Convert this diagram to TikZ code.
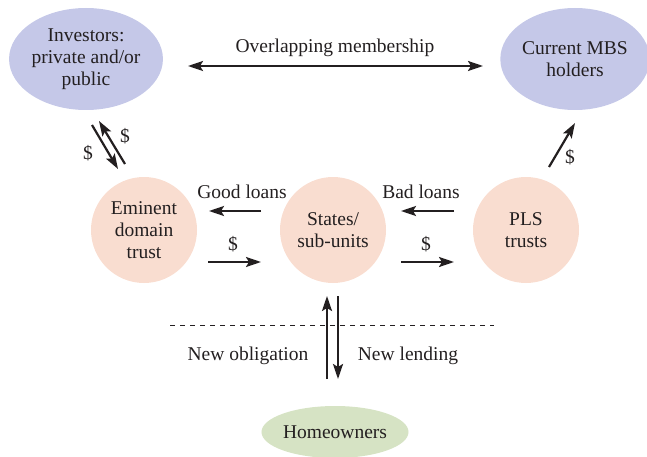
\documentclass[tikz,border=0pt]{standalone}
\usepackage{fontspec}
\setmainfont{Liberation Serif}
\usetikzlibrary{arrows.meta,shapes.geometric}
\definecolor{bluefill}{RGB}{197,200,232}
\definecolor{pinkfill}{RGB}{249,221,208}
\definecolor{greenfill}{RGB}{214,227,196}
\definecolor{txt}{RGB}{35,31,32}
\begin{document}
\begin{tikzpicture}[x=1pt,y=-1pt,
  every node/.style={text=txt, font=\fontsize{19.5}{22}\selectfont},
  blueell/.style={ellipse, fill=bluefill, inner sep=0pt, align=center},
  pinkcirc/.style={circle, fill=pinkfill, minimum size=106pt, inner sep=0pt, align=center},
  greenell/.style={ellipse, fill=greenfill, inner sep=0pt, align=center},
  tip/.tip={Stealth[length=15pt,width=10pt,inset=3pt]},
  arr/.style={line width=2.2pt, draw=txt, -tip},
  dblarr/.style={line width=2.2pt, draw=txt, tip-tip},
  lbl/.style={inner sep=0pt}
]
\useasboundingbox (0,0) rectangle (647,457);

\node[blueell, minimum width=151pt, minimum height=102pt] (inv) at (86,59) {Investors:\\private and/or\\public};
\node[blueell, minimum width=146pt, minimum height=102pt] (mbs) at (575,59) {Current MBS\\holders};
\node[pinkcirc] (emi) at (144,230) {Eminent\\domain\\trust};
\node[pinkcirc] (sta) at (333,230) {States/\\sub-units};
\node[pinkcirc] (pls) at (526,230) {PLS\\trusts};
\node[greenell, minimum width=146pt, minimum height=52pt] (home) at (335,432) {Homeowners};

% overlapping membership
\coordinate (om1) at (188,66);
\coordinate (om2) at (483,66);
\draw[dblarr] (om1) -- (om2);
\node[lbl] (oml) at (335,48) {Overlapping membership};

% investors <-> eminent
\coordinate (a1s) at (92,125);
\coordinate (a1e) at (118,169);
\draw[arr] (a1s) -- (a1e);
\coordinate (a2s) at (125,164);
\coordinate (a2e) at (99,121);
\draw[arr] (a2s) -- (a2e);
\node[lbl] (d1) at (88,153) {\$};
\node[lbl] (d2) at (125,136) {\$};

% PLS -> MBS
\coordinate (m1s) at (549,167);
\coordinate (m1e) at (575,123);
\draw[arr] (m1s) -- (m1e);
\node[lbl] (d3) at (570,157) {\$};

% good loans / $
\coordinate (g1s) at (261,211);
\coordinate (g1e) at (209,211);
\draw[arr] (g1s) -- (g1e);
\node[lbl] (gl) at (242,192) {Good loans};
\coordinate (g2s) at (208,262);
\coordinate (g2e) at (261,262);
\draw[arr] (g2s) -- (g2e);
\node[lbl] (d4) at (233,244) {\$};

% bad loans / $
\coordinate (b1s) at (454,211);
\coordinate (b1e) at (401,211);
\draw[arr] (b1s) -- (b1e);
\node[lbl] (bl) at (421,192) {Bad loans};
\coordinate (b2s) at (401,262);
\coordinate (b2e) at (454,262);
\draw[arr] (b2s) -- (b2e);
\node[lbl] (d5) at (426,244) {\$};

% dashed line
\coordinate (dl1) at (170,325);
\coordinate (dl2) at (494,325);
\draw[line width=1pt, draw=txt, dash pattern=on 5pt off 5pt] (dl1) -- (dl2);

% vertical arrows
\coordinate (v1s) at (327,379);
\coordinate (v1e) at (327,296);
\draw[arr] (v1s) -- (v1e);
\coordinate (v2s) at (338,296);
\coordinate (v2e) at (338,379);
\draw[arr] (v2s) -- (v2e);
\node[lbl] (no) at (248,356) {New obligation};
\node[lbl] (nl) at (408,356) {New lending};
\end{tikzpicture}
\end{document}
